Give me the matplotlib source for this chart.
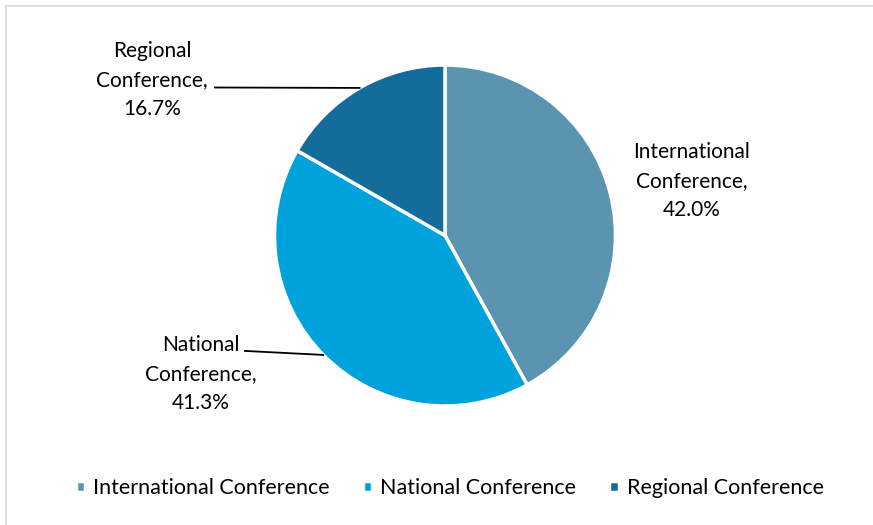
import matplotlib.pyplot as plt
import numpy as np
from matplotlib.patches import Rectangle

categories = ['International Conference', 'National Conference', 'Regional Conference']
shares = [42.0, 41.3, 16.7]
colors = ['#5B94B1', '#00A2DB', '#146C9A']

plt.rcParams['font.family'] = ['Lato', 'DejaVu Sans']

fig = plt.figure(figsize=(8.73, 5.25), dpi=100)

# light frame around the chart area
fig.patches.append(Rectangle((6 / 873, -0.1), 1.2, (525 - 6) / 525 + 0.1,
                             transform=fig.transFigure, fill=False,
                             edgecolor='#D9D9D9', linewidth=1.2))

# pie centre (445, 235.5) px, radius 170.5 px
r_px = 170.5
cx, cy = 445 / 873, 1 - 235.5 / 525
w, h = 2 * r_px / 873, 2 * r_px / 525
ax = fig.add_axes([cx - w / 2, cy - h / 2, w, h])

wedges, _ = ax.pie(shares, colors=colors, startangle=90, counterclock=False,
                   radius=1, wedgeprops=dict(edgecolor='white', linewidth=2.5))
ax.set_xlim(-1, 1)
ax.set_ylim(-1, 1)
ax.set_aspect('equal')

label_pos = [(1.449, 0.320), (-1.431, -0.812), (-1.718, 0.912)]
# where each leader line starts (None = no leader)
leader_start = [None, (-1.173, -0.677), (-1.349, 0.868)]

for wedge, name, val, pos, start in zip(wedges, categories, shares, label_pos, leader_start):
    first, second = name.split(' ')
    ax.text(pos[0], pos[1], f'{first}\n{second},\n{val:.1f}%', ha='center', va='center',
            fontsize=15, linespacing=1.58, color='black', clip_on=False)
    if start is not None:
        ang = np.deg2rad((wedge.theta1 + wedge.theta2) / 2)
        ax.plot([start[0], np.cos(ang)], [start[1], np.sin(ang)], color='black',
                linewidth=1.3, clip_on=False)

fig.legend(wedges, categories, loc='center', bbox_to_anchor=(0.515, 1 - 488 / 525),
           ncol=3, frameon=False, fontsize=15.5, handlelength=0.45, handleheight=0.45,
           handletextpad=0.35, columnspacing=1.55, labelcolor='black')

fig.savefig('out.png', dpi=100)
